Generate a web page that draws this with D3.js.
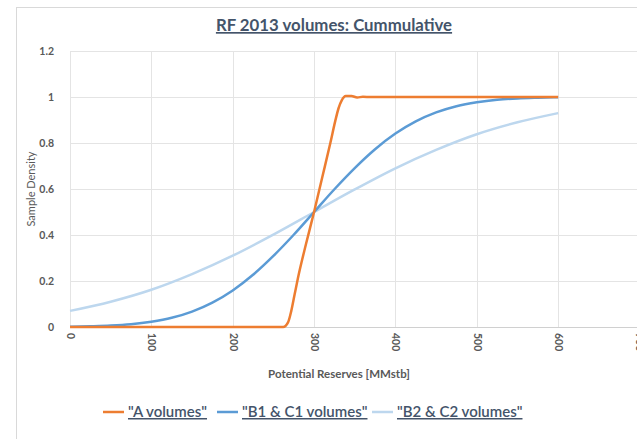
<!DOCTYPE html>
<html lang="en">
<head>
  <meta charset="UTF-8" />
  <title>RF 2013 volumes: Cummulative</title>
  <script src="https://cdn.jsdelivr.net/npm/d3@7"></script>
  <style>
    body {
      margin: 0;
      background: #fff;
      font-family: Lato, "Open Sans", sans-serif;
    }
    #chart svg { display: block; }
  </style>
</head>
<body>
  <div id="chart"></div>

  <script>
    // values
    const xTicks = [0, 100, 200, 300, 400, 500, 600, 700];
    const yTicks = [0, 0.2, 0.4, 0.6, 0.8, 1, 1.2];

    const aX = [0, 100, 200, 250, 262, 268, 272, 276, 280, 290, 300, 310, 320, 326, 330, 334, 339, 346, 353, 360, 370, 400, 500, 600];
    const aY = [0, 0, 0, 0, 0, 0.02, 0.07, 0.14, 0.21, 0.36, 0.5, 0.65, 0.8, 0.895, 0.95, 0.985, 1.004, 1.004, 0.998, 1.001, 1.0, 1.0, 1.0, 1.0];

    const b1X = [0, 25, 50, 75, 100, 125, 150, 175, 200, 225, 250, 275, 300, 325, 350, 375, 400, 425, 450, 475, 500, 525, 550, 575, 600];
    const b1Y = [0.001, 0.003, 0.006, 0.012, 0.023, 0.04, 0.067, 0.106, 0.159, 0.227, 0.309, 0.401, 0.5, 0.599, 0.691, 0.773, 0.841, 0.894, 0.933, 0.96, 0.977, 0.988, 0.994, 0.997, 0.999];

    const b2X = [0, 50, 100, 150, 200, 250, 300, 350, 400, 450, 500, 550, 600];
    const b2Y = [0.07, 0.11, 0.162, 0.23, 0.31, 0.402, 0.5, 0.598, 0.69, 0.77, 0.838, 0.89, 0.93];

    const seriesNames = ['"A volumes"', '"B1 & C1 volumes"', '"B2 & C2 volumes"'];
    const seriesColors = ["#ED7D31", "#5B9BD5", "#BDD7EE"];

    const series = [
      { name: seriesNames[0], color: seriesColors[0], pts: aX.map((x, i) => [x, aY[i]]) },
      { name: seriesNames[1], color: seriesColors[1], pts: b1X.map((x, i) => [x, b1Y[i]]) },
      { name: seriesNames[2], color: seriesColors[2], pts: b2X.map((x, i) => [x, b2Y[i]]) }
    ];

    const width = 637;
    const height = 439;

    const svg = d3.select("#chart")
      .append("svg")
      .attr("width", width)
      .attr("height", height);

    // outer chart frame
    svg.append("rect")
      .attr("x", 16.5)
      .attr("y", 7.5)
      .attr("width", 700)
      .attr("height", 500)
      .attr("fill", "#fff")
      .attr("stroke", "#D9D9D9");

    const x = d3.scaleLinear().domain([0, 700]).range([70, 639.5]);
    const y = d3.scaleLinear().domain([0, 1.2]).range([327, 51]);

    // gridlines
    svg.append("g")
      .selectAll("line.h")
      .data(yTicks)
      .join("line")
      .attr("x1", x(0))
      .attr("x2", x(700))
      .attr("y1", d => Math.round(y(d)) + 0.5)
      .attr("y2", d => Math.round(y(d)) + 0.5)
      .attr("stroke", d => d === 0 ? "#D0D0D0" : "#E4E4E4");

    svg.append("g")
      .selectAll("line.v")
      .data(xTicks)
      .join("line")
      .attr("x1", d => Math.round(x(d)) + 0.5)
      .attr("x2", d => Math.round(x(d)) + 0.5)
      .attr("y1", y(1.2))
      .attr("y2", y(0))
      .attr("stroke", "#E4E4E4");

    // axes (labels only)
    const xAxis = svg.append("g")
      .attr("transform", `translate(0,${y(0)})`)
      .call(d3.axisBottom(x).tickValues(xTicks).tickSize(0).tickPadding(0));
    xAxis.select(".domain").remove();
    xAxis.selectAll("text")
      .attr("transform", "rotate(90)")
      .attr("text-anchor", "start")
      .attr("dy", "0.35em")
      .attr("x", 6)
      .attr("y", 0)
      .attr("fill", "#595959")
      .style("font-size", "10.5px")
      .style("font-weight", "bold")
      .style("font-family", "Lato, sans-serif");

    const yAxis = svg.append("g")
      .attr("transform", `translate(${x(0)},0)`)
      .call(d3.axisLeft(y).tickValues(yTicks).tickSize(0).tickPadding(16).tickFormat(d => d3.format("~g")(d)));
    yAxis.select(".domain").remove();
    yAxis.selectAll("text")
      .attr("fill", "#595959")
      .style("font-size", "10.5px")
      .style("font-weight", "bold")
      .style("font-family", "Lato, sans-serif");

    // series lines
    const line = d3.line()
      .x(d => x(d[0]))
      .y(d => y(d[1]))
      .curve(d3.curveMonotoneX);

    svg.append("g")
      .selectAll("path")
      .data(series.slice().reverse())
      .join("path")
      .attr("d", d => line(d.pts))
      .attr("fill", "none")
      .attr("stroke", d => d.color)
      .attr("stroke-width", 2.5)
      .attr("stroke-linejoin", "round");

    // title
    svg.append("text")
      .attr("x", 334)
      .attr("y", 31)
      .attr("text-anchor", "middle")
      .attr("fill", "#44546A")
      .style("font-size", "16.8px")
      .style("font-weight", "bold")
      .style("text-decoration", "underline")
      .text("RF 2013 volumes: Cummulative");

    // axis titles
    svg.append("text")
      .attr("x", 339)
      .attr("y", 378)
      .attr("text-anchor", "middle")
      .attr("fill", "#595959")
      .style("font-size", "11.5px")
      .style("font-weight", "bold")
      .text("Potential Reserves [MMstb]");

    svg.append("text")
      .attr("transform", "translate(35,189) rotate(-90)")
      .attr("text-anchor", "middle")
      .attr("fill", "#595959")
      .style("font-size", "11px")
      .text("Sample Density");

    // legend
    const legendX = [103, 217, 372];
    const legend = svg.append("g");
    series.forEach((s, i) => {
      const g = legend.append("g").attr("transform", `translate(${legendX[i]},412)`);
      g.append("line")
        .attr("x1", 0).attr("x2", 21)
        .attr("y1", 0).attr("y2", 0)
        .attr("stroke", s.color)
        .attr("stroke-width", 2.5);
      g.append("text")
        .attr("x", 25)
        .attr("y", 5)
        .attr("fill", "#44546A")
        .style("font-size", "15px")
        .style("font-weight", "600")
        .style("text-decoration", "underline")
        .text(s.name);
    });
  </script>
</body>
</html>
